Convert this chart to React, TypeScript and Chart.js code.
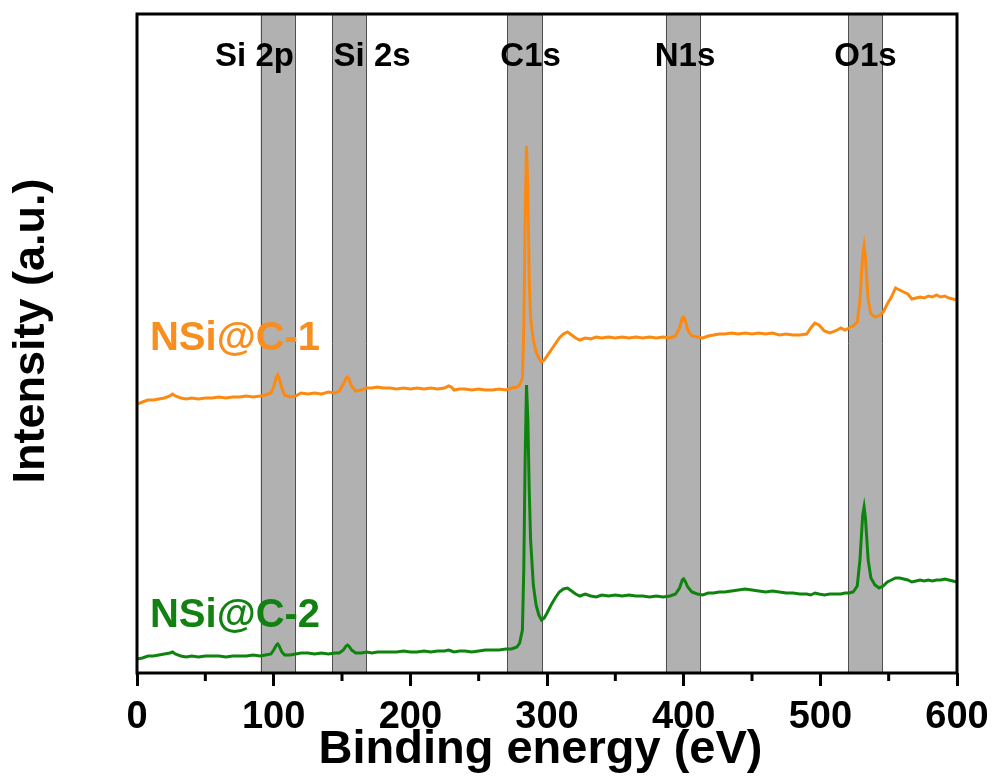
import React, { useEffect, useRef } from 'react';
import { Chart, registerables } from 'chart.js';

Chart.register(...registerables);

const FONT = "'Liberation Sans', Arial, Helvetica, sans-serif";

// Binding energy (eV)
const energy = [
  0, 4, 8, 12, 16, 20, 24, 26, 28, 32, 36, 40, 45, 50, 55, 60, 65, 70, 75, 80, 85, 90, 94, 98,
  100, 102, 103, 104, 106, 108, 112, 116, 120, 125, 130, 135, 140, 145, 148, 151, 153, 154, 155, 157,
  160, 164, 168, 172, 176, 180, 185, 190, 195, 200, 205, 210, 215, 220, 225, 228, 230, 232, 236, 240,
  245, 250, 255, 260, 265, 270, 274, 278, 280, 282, 283, 284, 285, 286, 287, 288, 290, 292, 294, 296,
  298, 300, 303, 306, 309, 312, 315, 318, 321, 324, 328, 332, 336, 340, 345, 350, 355, 360, 365, 370,
  375, 380, 385, 390, 394, 397, 399, 400, 401, 403, 406, 410, 414, 418, 422, 426, 430, 435, 440, 445,
  450, 455, 460, 465, 470, 475, 480, 485, 490, 493, 496, 499, 503, 507, 511, 515, 518, 521, 524, 527,
  529, 531, 532, 533, 535, 537, 540, 543, 546, 549, 552, 555, 558, 561, 564, 567, 570, 573, 576, 579,
  582, 585, 588, 591, 594, 597, 600,
];

// Intensity (a.u.), NSi@C-1 (offset upper trace)
const nsiC1 = [
  269, 271, 273, 273, 274, 275, 277, 279, 277, 275, 274, 275, 274, 275, 275, 276, 275, 276, 276, 277, 276, 277, 278, 280,
  286, 296, 298, 295, 285, 278, 276, 277, 280, 279, 280, 279, 281, 280, 282, 289, 295, 296, 294, 287,
  282, 283, 285, 285, 286, 285, 285, 284, 285, 284, 285, 284, 285, 284, 285, 287, 286, 283, 284, 284,
  283, 284, 283, 283, 284, 283, 285, 286, 288, 295, 343, 453, 527, 483, 393, 355, 333, 321, 315, 311,
  313, 317, 323, 329, 335, 339, 341, 338, 335, 333, 335, 334, 336, 335, 336, 335, 336, 335, 336, 335,
  336, 335, 336, 335, 337, 345, 355, 356, 353, 343, 337, 336, 335, 337, 338, 339, 339, 340, 339, 340,
  339, 340, 339, 340, 338, 339, 338, 338, 339, 345, 350, 348, 342, 340, 342, 345, 343, 345, 347, 351,
  373, 418, 427, 415, 373, 359, 356, 357, 361, 369, 376, 385, 383, 381, 379, 374, 375, 376, 375, 377,
  376, 378, 376, 377, 375, 374, 373,
];

// Intensity (a.u.), NSi@C-2 (lower trace)
const nsiC2 = [
  14, 15, 17, 17, 18, 19, 20, 21, 19, 17, 16, 17, 16, 17, 17, 17, 16, 17, 17, 17, 18, 17, 18, 19,
  23, 28, 29, 27, 21, 18, 18, 19, 20, 20, 19, 20, 19, 20, 20, 23, 27, 28, 27, 23,
  20, 20, 21, 20, 21, 21, 21, 21, 22, 21, 21, 22, 21, 22, 22, 23, 22, 21, 22, 22,
  21, 22, 23, 23, 23, 24, 24, 26, 30, 43, 103, 213, 288, 253, 183, 133, 88, 68, 58, 53,
  55, 60, 68, 75, 81, 84, 85, 82, 79, 77, 79, 77, 76, 78, 77, 78, 77, 78, 77, 77,
  76, 77, 76, 77, 79, 85, 93, 94, 92, 86, 81, 79, 78, 80, 80, 81, 81, 82, 83, 84,
  83, 82, 81, 82, 81, 80, 80, 79, 79, 78, 80, 79, 78, 79, 79, 79, 80, 80, 81, 87,
  113, 158, 166, 155, 113, 95, 88, 85, 87, 91, 93, 95, 95, 94, 93, 91, 92, 93, 92, 93,
  92, 93, 93, 94, 93, 92, 91,
];

// Highlighted core-level regions (eV)
const bandLabels = ['Si 2p', 'Si 2s', 'C1s', 'N1s', 'O1s'];
const bandStart = [90.5, 143, 271, 387, 520.5];
const bandEnd = [116, 168, 297, 412.5, 545.5];
const bandLabelX = [86, 172, 288, 401, 533];

const minorTicks = [50, 150, 250, 350, 450, 550];

const seriesNames = ['NSi@C-1', 'NSi@C-2'];
const seriesLabelX = [9.5, 9.5];
const seriesLabelY = [323, 46];

const ORANGE = '#fd8a10';
const GREEN = '#0e840e';
const ORANGE_TEXT = '#f78e1f';
const GREEN_TEXT = '#118211';

const decorPlugin = {
  id: 'decor',
  beforeDatasetsDraw(chart: any) {
    const { ctx, chartArea, scales } = chart;
    const xs = scales.x;
    ctx.save();
    for (let i = 0; i < bandStart.length; i++) {
      const x1 = xs.getPixelForValue(bandStart[i]);
      const x2 = xs.getPixelForValue(bandEnd[i]);
      ctx.fillStyle = '#b1b1b1';
      ctx.fillRect(x1, chartArea.top, x2 - x1, chartArea.bottom - chartArea.top);
      ctx.strokeStyle = '#4e4e4e';
      ctx.lineWidth = 1;
      ctx.beginPath();
      ctx.moveTo(Math.round(x1) + 0.5, chartArea.top);
      ctx.lineTo(Math.round(x1) + 0.5, chartArea.bottom);
      ctx.moveTo(Math.round(x2) - 0.5, chartArea.top);
      ctx.lineTo(Math.round(x2) - 0.5, chartArea.bottom);
      ctx.stroke();
    }
    ctx.restore();
  },
  afterDatasetsDraw(chart: any) {
    const { ctx, chartArea, scales } = chart;
    const xs = scales.x;
    const ys = scales.y;
    ctx.save();
    // band labels
    ctx.font = `bold 33px ${FONT}`;
    ctx.fillStyle = '#000';
    ctx.textAlign = 'center';
    ctx.textBaseline = 'alphabetic';
    for (let i = 0; i < bandLabels.length; i++) {
      ctx.fillText(bandLabels[i], xs.getPixelForValue(bandLabelX[i]), chartArea.top + 52);
    }
    // series labels
    ctx.font = `bold 40px ${FONT}`;
    ctx.textAlign = 'left';
    const colors = [ORANGE_TEXT, GREEN_TEXT];
    for (let i = 0; i < seriesNames.length; i++) {
      ctx.fillStyle = colors[i];
      ctx.fillText(seriesNames[i], xs.getPixelForValue(seriesLabelX[i]), ys.getPixelForValue(seriesLabelY[i]));
    }
    ctx.restore();
  },
  afterDraw(chart: any) {
    const { ctx, chartArea, scales } = chart;
    const xs = scales.x;
    ctx.save();
    ctx.strokeStyle = '#000';
    ctx.lineWidth = 3;
    ctx.strokeRect(chartArea.left, chartArea.top, chartArea.right - chartArea.left, chartArea.bottom - chartArea.top);
    ctx.beginPath();
    for (const v of minorTicks) {
      const x = xs.getPixelForValue(v);
      ctx.moveTo(x, chartArea.bottom);
      ctx.lineTo(x, chartArea.bottom + 8);
    }
    ctx.stroke();
    ctx.restore();
  },
};

export default function App() {
  const ref = useRef<HTMLCanvasElement | null>(null);

  useEffect(() => {
    if (!ref.current) return;
    const chart = new Chart(ref.current, {
      type: 'line',
      data: {
        datasets: [
          {
            label: seriesNames[0],
            data: energy.map((e, i) => ({ x: e, y: nsiC1[i] })),
            borderColor: ORANGE,
            borderWidth: 3,
            pointRadius: 0,
            tension: 0,
          },
          {
            label: seriesNames[1],
            data: energy.map((e, i) => ({ x: e, y: nsiC2[i] })),
            borderColor: GREEN,
            borderWidth: 3,
            pointRadius: 0,
            tension: 0,
          },
        ],
      },
      options: {
        animation: false,
        responsive: false,
        maintainAspectRatio: false,
        layout: { padding: { left: 0, right: 36, top: 14, bottom: 0 } },
        plugins: {
          legend: { display: false },
          tooltip: { enabled: false },
        },
        scales: {
          x: {
            type: 'linear',
            min: 0,
            max: 600,
            ticks: {
              stepSize: 100,
              color: '#000',
              padding: 9,
              maxRotation: 0,
              font: { family: FONT, size: 38, weight: 'bold' },
            },
            grid: {
              display: true,
              drawOnChartArea: false,
              drawTicks: true,
              tickLength: 13,
              tickWidth: 3,
              tickColor: '#000',
            },
            border: { display: false },
            title: {
              display: true,
              text: 'Binding energy (eV)\u00a0',
              color: '#000',
              padding: { top: 0, bottom: 0 },
              font: { family: FONT, size: 47, weight: 'bold' },
            },
            afterFit: (scale: any) => {
              scale.height = 105;
              scale.paddingLeft = 0;
              scale.paddingRight = 0;
            },
          },
          y: {
            type: 'linear',
            min: 0,
            max: 659,
            ticks: { display: false },
            grid: { display: false },
            border: { display: false },
            title: {
              display: true,
              text: '\u00a0\u00a0Intensity (a.u.)',
              color: '#000',
              padding: { top: 5, bottom: 0 },
              font: { family: FONT, size: 45, weight: 'bold' },
            },
            afterFit: (scale: any) => {
              scale.width = 137;
            },
          },
        },
      },
      plugins: [decorPlugin],
    });
    return () => chart.destroy();
  }, []);

  return (
    <div style={{ position: 'fixed', left: 0, top: 0, width: 993, height: 778, background: '#fff' }}>
      <canvas ref={ref} width={993} height={778} style={{ width: 993, height: 778, display: 'block' }} />
    </div>
  );
}
